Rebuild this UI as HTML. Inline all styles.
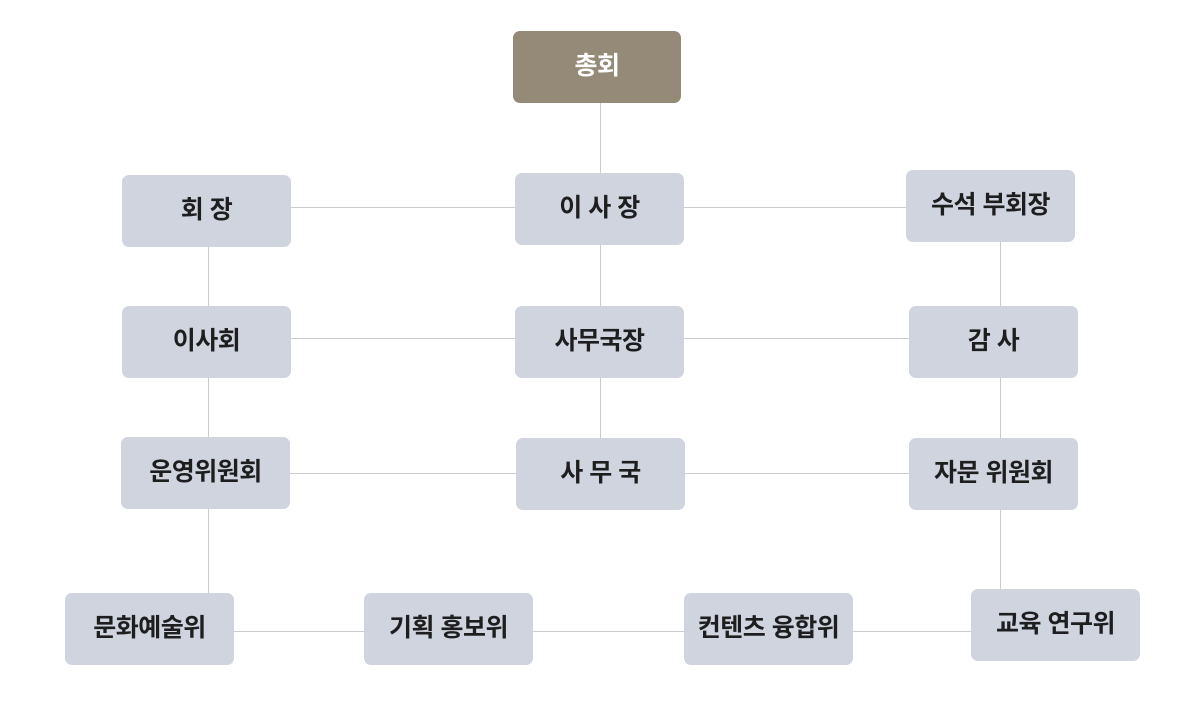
<!DOCTYPE html>
<html><head><meta charset="utf-8"><style>
html,body{margin:0;padding:0;background:#fff;}
body{width:1200px;height:710px;position:relative;overflow:hidden;font-family:"Liberation Sans","Noto Sans CJK KR",sans-serif;}
.b{position:absolute;width:169px;height:72px;box-sizing:border-box;padding-bottom:6px;background:#cfd4df;border-radius:7px;display:flex;align-items:center;justify-content:center;font-size:25px;font-weight:bold;color:#1e1e1e;letter-spacing:-0.5px;}
.top{background:#958a77;color:#fff;}
.h,.v{position:absolute;background:#cccccc;}
.h{height:1px}.v{width:1px}
</style></head><body>
<div class="v" style="left:600px;top:103px;height:70px"></div>
<div class="v" style="left:600px;top:245px;height:61px"></div>
<div class="v" style="left:600px;top:378px;height:60px"></div>
<div class="h" style="left:291px;top:207px;width:615px"></div>
<div class="h" style="left:291px;top:338px;width:618px"></div>
<div class="h" style="left:290px;top:473px;width:619px"></div>
<div class="v" style="left:208px;top:247px;height:346px"></div>
<div class="v" style="left:1000px;top:242px;height:347px"></div>
<div class="h" style="left:234px;top:631px;width:737px"></div>

<div class="b top" style="left:513px;top:31px;width:168px">총회</div>
<div class="b" style="left:122px;top:175px">회 장</div>
<div class="b" style="left:515px;top:173px">이 사 장</div>
<div class="b" style="left:906px;top:170px">수석 부회장</div>
<div class="b" style="left:122px;top:306px">이사회</div>
<div class="b" style="left:515px;top:306px">사무국장</div>
<div class="b" style="left:909px;top:306px">감 사</div>
<div class="b" style="left:121px;top:437px">운영위원회</div>
<div class="b" style="left:516px;top:438px">사 무 국</div>
<div class="b" style="left:909px;top:438px">자문 위원회</div>
<div class="b" style="left:65px;top:593px">문화예술위</div>
<div class="b" style="left:364px;top:593px">기획 홍보위</div>
<div class="b" style="left:684px;top:593px">컨텐츠 융합위</div>
<div class="b" style="left:971px;top:589px">교육 연구위</div>
</body></html>
